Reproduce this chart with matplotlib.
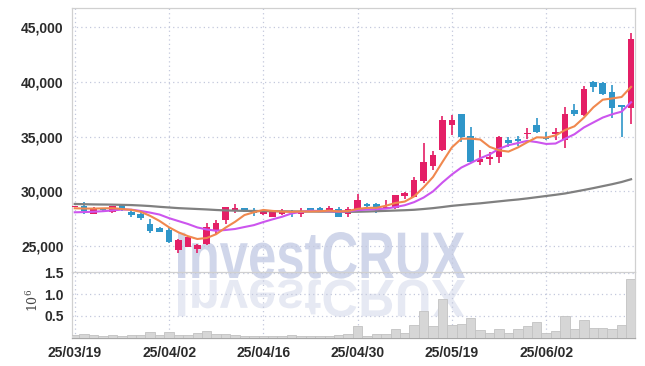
import matplotlib
matplotlib.use('Agg')
import matplotlib.pyplot as plt
import numpy as np
import pandas as pd
from matplotlib.textpath import TextPath
from matplotlib.patches import PathPatch
from matplotlib.font_manager import FontProperties
from matplotlib.transforms import Affine2D

plt.rcParams['mathtext.fontset'] = 'dejavuserif'

tick_index = [0, 10, 20, 30, 40, 50]
tick_labels = ['25/03/19', '25/04/02', '25/04/16', '25/04/30', '25/05/19', '25/06/02']

opens = [28540, 28640, 27900, 28300, 28130, 28750, 28100, 27920, 27010, 26670,
         26460, 24640, 24940, 24700, 25160, 26370, 27380, 28320, 28450, 28290,
         27900, 27680, 27900, 28230, 27900, 28450, 28480, 28200, 28380, 27900,
         28230, 28840, 28840, 28410, 28500, 29600, 29500, 30940, 32340, 33780,
         36060, 37070, 35050, 32700, 32920, 33160, 34690, 34750, 35210, 36060,
         34960, 35240, 34690, 37430, 36970, 40020, 39930, 39100, 37890, 37590]
highs = [28680, 29000, 28520, 28400, 28700, 28800, 28290, 28080, 27440, 26760,
         26670, 25600, 25900, 25160, 27080, 27380, 28560, 28840, 28500, 28450,
         28250, 28150, 28380, 28300, 28450, 28500, 28560, 28680, 28590, 28590,
         29730, 28900, 28900, 29200, 29700, 29900, 31280, 34440, 33680, 36910,
         36970, 37100, 35900, 33770, 33620, 35050, 34990, 35050, 35760, 36670,
         35450, 35780, 37730, 37950, 39620, 40050, 40000, 39720, 37900, 44440]
lows = [28520, 27900, 27880, 28150, 27990, 28200, 27680, 27350, 26220, 26250,
        25300, 24330, 24900, 24330, 25100, 26070, 26980, 27990, 28150, 27770,
        27850, 27650, 27850, 27680, 27620, 28150, 28150, 28150, 27650, 27680,
        28150, 28600, 27990, 28350, 28400, 29300, 29450, 30730, 31950, 33700,
        35150, 34530, 32600, 32400, 32400, 32560, 34080, 34150, 34750, 35300,
        34700, 34690, 33930, 36910, 36900, 39100, 38800, 36670, 34990, 36120]
closes = [28650, 28230, 28500, 28250, 28660, 28260, 27860, 27590, 26400, 26310,
          25390, 25550, 25850, 25090, 26770, 27130, 28540, 28500, 28200, 28040,
          28200, 28080, 28200, 28080, 28200, 28200, 28200, 28500, 27680, 28380,
          29200, 28660, 28540, 28590, 29660, 29850, 31030, 32680, 33320, 36520,
          36520, 34990, 32700, 32950, 33160, 34940, 34390, 34600, 35360, 35390,
          34810, 35380, 37070, 37070, 39350, 39500, 38890, 37640, 37730, 43970]
volumes = [0.06, 0.08, 0.05, 0.035, 0.06, 0.035, 0.05, 0.06, 0.12, 0.06,
           0.12, 0.065, 0.065, 0.10, 0.14, 0.08, 0.09, 0.05, 0.04, 0.035,
           0.03, 0.03, 0.04, 0.05, 0.04, 0.045, 0.035, 0.035, 0.05, 0.08,
           0.265, 0.04, 0.08, 0.08, 0.19, 0.11, 0.29, 0.61, 0.265, 0.90,
           0.29, 0.31, 0.44, 0.17, 0.11, 0.19, 0.11, 0.19, 0.265, 0.36,
           0.11, 0.14, 0.50, 0.19, 0.40, 0.21, 0.21, 0.19, 0.29, 1.36]
# moving-average values before enough in-window history exists
ma5_head = [28450, 28420, 28420, 28440]
ma10_head = [28080, 28100, 28130, 28180, 28250, 28330, 28320, 28200, 28050]
ma60 = [28840, 28820, 28800, 28790, 28780, 28760, 28740, 28700, 28650, 28580,
        28520, 28460, 28420, 28380, 28340, 28290, 28250, 28230, 28210, 28200,
        28190, 28180, 28170, 28160, 28150, 28150, 28140, 28140, 28130, 28120,
        28130, 28150, 28180, 28210, 28240, 28270, 28310, 28380, 28460, 28560,
        28670, 28750, 28830, 28900, 28990, 29080, 29170, 29250, 29350, 29460,
        29570, 29680, 29800, 29960, 30120, 30290, 30470, 30650, 30850, 31100]

o = np.array(opens, float); h = np.array(highs, float)
l = np.array(lows, float); c = np.array(closes, float)
n = len(c)
x = np.arange(n)
cs = pd.Series(c)
ma5 = cs.rolling(5).mean().to_numpy()
ma5[:len(ma5_head)] = ma5_head
ma10 = cs.rolling(10).mean().to_numpy()
ma10[:len(ma10_head)] = ma10_head

UP = '#e41f66'
DOWN = '#2f96c9'
GRID = '#c3c8dc'
TXT = '#2b2b2b'
SPINE = '#d0d0d0'
LABEL_FONT = FontProperties(family='Liberation Sans', weight='bold', size=10)

fig = plt.figure(figsize=(6.45, 3.66), dpi=100)
W, H = 645.0, 366.0
L, R = 72, 635
ax = fig.add_axes([L / W, 1 - 272 / H, (R - L) / W, (272 - 8) / H])
axv = fig.add_axes([L / W, 1 - 337.5 / H, (R - L) / W, (337.5 - 272) / H], sharex=ax)
for a in (ax, axv):
    a.set_facecolor('none')
    a.set_axisbelow(True)

# watermark
fp = FontProperties(family='Liberation Sans', weight='bold')
tp = TextPath((0, 0), 'InvestCRUX', size=62, prop=fp)
ext = tp.get_extents()
sx = 287.0 / ext.width
sy = 46.0 / ext.y1
base_x, base_y = 178.0, H - 278.0
t_main = Affine2D().translate(-ext.x0, 0).scale(sx, sy).translate(base_x, base_y)
t_ref = Affine2D().translate(-ext.x0, 0).scale(sx, -sy * 0.8).translate(base_x, base_y - 2)
p1 = PathPatch(tp, transform=t_main, facecolor='#d0d6ea', edgecolor='none', zorder=-2)
p2 = PathPatch(tp, transform=t_ref, facecolor='#e6e9f3', edgecolor='none', zorder=-2)
fig.add_artist(p1)
fig.add_artist(p2)

# candles
up = c >= o
colors = np.where(up, UP, DOWN)
ax.vlines(x, l, h, colors=colors, lw=1.2, zorder=3)
body_lo = np.minimum(o, c)
body_h = np.maximum(np.abs(c - o), 90)
ax.bar(x, body_h, bottom=body_lo, width=0.7, color=colors, linewidth=0, zorder=4)

ax.plot(x, ma60, color='#808080', lw=1.6, zorder=5)
ax.plot(x, ma10, color='#cc55ee', lw=1.5, zorder=5)
ax.plot(x, ma5, color='#f0884e', lw=1.5, zorder=6)

ax.set_xlim(-0.29, 59.42)
ax.set_ylim(22620, 46760)
ax.set_yticks([25000, 30000, 35000, 40000, 45000])
ax.set_yticklabels([f'{v:,}' for v in [25000, 30000, 35000, 40000, 45000]])
ax.set_xticks(tick_index)
ax.tick_params(axis='x', labelbottom=False, length=0)
ax.tick_params(axis='y', length=0, pad=6)
ax.grid(True, linestyle=(0, (1, 2.5)), color=GRID, lw=0.9)

# volume
axv.bar(x, volumes, width=1.0, color='#d6d6d6', edgecolor='#c2c2c2', linewidth=0.6, zorder=3)
axv.set_ylim(0, 1.515)
axv.set_yticks([0.5, 1.0, 1.5])
axv.set_yticklabels(['0.5', '1.0', '1.5'])
axv.set_xticks(tick_index)
axv.set_xticklabels(tick_labels)
axv.tick_params(axis='x', length=0, pad=6)
axv.tick_params(axis='y', length=0, pad=6)
axv.grid(True, linestyle=(0, (1, 2.5)), color=GRID, lw=0.9)

for a in (ax, axv):
    for sp in a.spines.values():
        sp.set_color(SPINE)
        sp.set_linewidth(0.9)
    for lab in a.get_xticklabels() + a.get_yticklabels():
        lab.set_fontproperties(LABEL_FONT)
        lab.set_color(TXT)
axv.spines['bottom'].set_color('#a8a8a8')
ax.spines['bottom'].set_visible(False)

fig.text(33 / W, 1 - 300 / H, r'$10^6$', rotation=90, ha='center', va='center',
         fontsize=9, color='#444444')

fig.savefig('out.png', dpi=100)
